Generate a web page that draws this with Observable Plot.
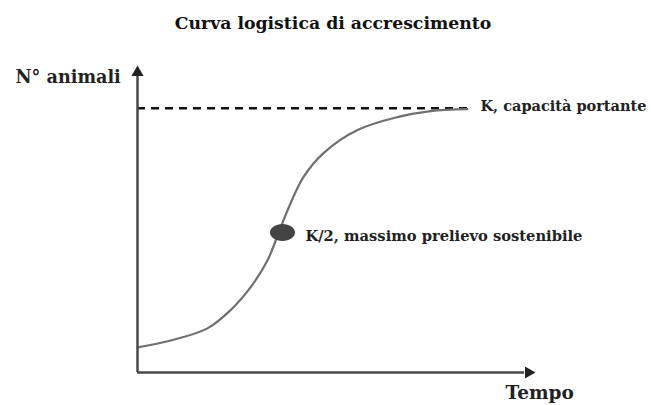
<!DOCTYPE html>
<html>
<head>
<meta charset="utf-8">
<script src="https://cdn.jsdelivr.net/npm/d3@7"></script>
<script src="https://cdn.jsdelivr.net/npm/@observablehq/plot@0.6"></script>
<style>
  html, body { margin: 0; padding: 0; background: #fff; }
  svg { display: block; }
</style>
</head>
<body>
<div id="chart"></div>
<script>
// Logistic growth curve (time in arbitrary units, N as % of K)
const tempo = [0, 0.84, 1.77, 2.35, 2.86, 3.29, 3.57, 3.80, 4.20, 4.71, 5.57, 6.58, 7.42, 8.35];
const animali = [9.5, 12.1, 16.7, 23.5, 32.2, 42.4, 52.7, 61.4, 73.9, 83.0, 91.7, 96.6, 98.9, 99.6];
const K = 100;
const kLineEnd = 8.43;
const halfPoint = {t: 3.67, n: 53};
const axisMax = {t: 10, n: 115};

const title = "Curva logistica di accrescimento";
const yLabel = "N° animali";
const xLabel = "Tempo";
const kLabel = "K, capacità portante";
const halfLabel = "K/2, massimo prelievo sostenibile";

const curve = tempo.map((t, i) => ({t, n: animali[i]}));
const font = "'DejaVu Serif', 'Liberation Serif', serif";

const ellipseSymbol = {
  draw(ctx) {
    const a = 12.5, b = 8.5, k = 0.5523;
    ctx.moveTo(a, 0);
    ctx.bezierCurveTo(a, k * b, k * a, b, 0, b);
    ctx.bezierCurveTo(-k * a, b, -a, k * b, -a, 0);
    ctx.bezierCurveTo(-a, -k * b, -k * a, -b, 0, -b);
    ctx.bezierCurveTo(k * a, -b, a, -k * b, a, 0);
    ctx.closePath();
  }
};

const chart = Plot.plot({
  width: 651,
  height: 405,
  marginLeft: 137,
  marginRight: 119,
  marginTop: 68,
  marginBottom: 33,
  x: {domain: [0, axisMax.t], axis: null},
  y: {domain: [0, axisMax.n], axis: null},
  style: {fontFamily: font, background: "#fff", overflow: "visible"},
  marks: [
    Plot.ruleY([K], {x1: 0, x2: kLineEnd, stroke: "#111", strokeWidth: 2.5, strokeDasharray: "8,6"}),
    Plot.line(curve, {x: "t", y: "n", curve: "catmull-rom", stroke: "#707070", strokeWidth: 2.2}),
    Plot.ruleX([0], {y1: 0, y2: axisMax.n - 2, stroke: "#4a4a4a", strokeWidth: 2.5}),
    Plot.ruleY([0], {x1: 0, x2: axisMax.t - 0.2, stroke: "#4a4a4a", strokeWidth: 2.5}),
    Plot.dot([{t: 0, n: axisMax.n}], {x: "t", y: "n", symbol: "triangle", r: 4.5, fill: "#222", stroke: null, dy: 4}),
    Plot.dot([{t: axisMax.t, n: 0}], {x: "t", y: "n", symbol: "triangle", r: 4.5, fill: "#222", stroke: null, rotate: 90, dx: -4}),
    Plot.dot([halfPoint], {x: "t", y: "n", r: 9, fill: "#444", stroke: null, symbol: ellipseSymbol}),
    Plot.text([kLabel], {x: kLineEnd, y: K, text: d => d, textAnchor: "start", dx: 10, dy: -2, fontSize: 14.5, fontWeight: "bold", fill: "#222"}),
    Plot.text([halfLabel], {x: halfPoint.t, y: halfPoint.n, text: d => d, textAnchor: "start", dx: 23, dy: 4, fontSize: 14.7, fontWeight: "bold", fill: "#222"}),
    Plot.text([title], {frameAnchor: "top", text: d => d, dx: -2, dy: -52, fontSize: 17.3, fontWeight: "bold", fill: "#111"}),
    Plot.text([yLabel], {frameAnchor: "top-left", text: d => d, textAnchor: "start", dx: -122, dy: 2, fontSize: 17.6, fontWeight: "bold", fill: "#222"}),
    Plot.text([xLabel], {frameAnchor: "bottom-right", text: d => d, textAnchor: "start", dx: -27, dy: 26, fontSize: 18.5, fontWeight: "bold", fill: "#222"})
  ]
});
document.getElementById("chart").appendChild(chart);
</script>
</body>
</html>
